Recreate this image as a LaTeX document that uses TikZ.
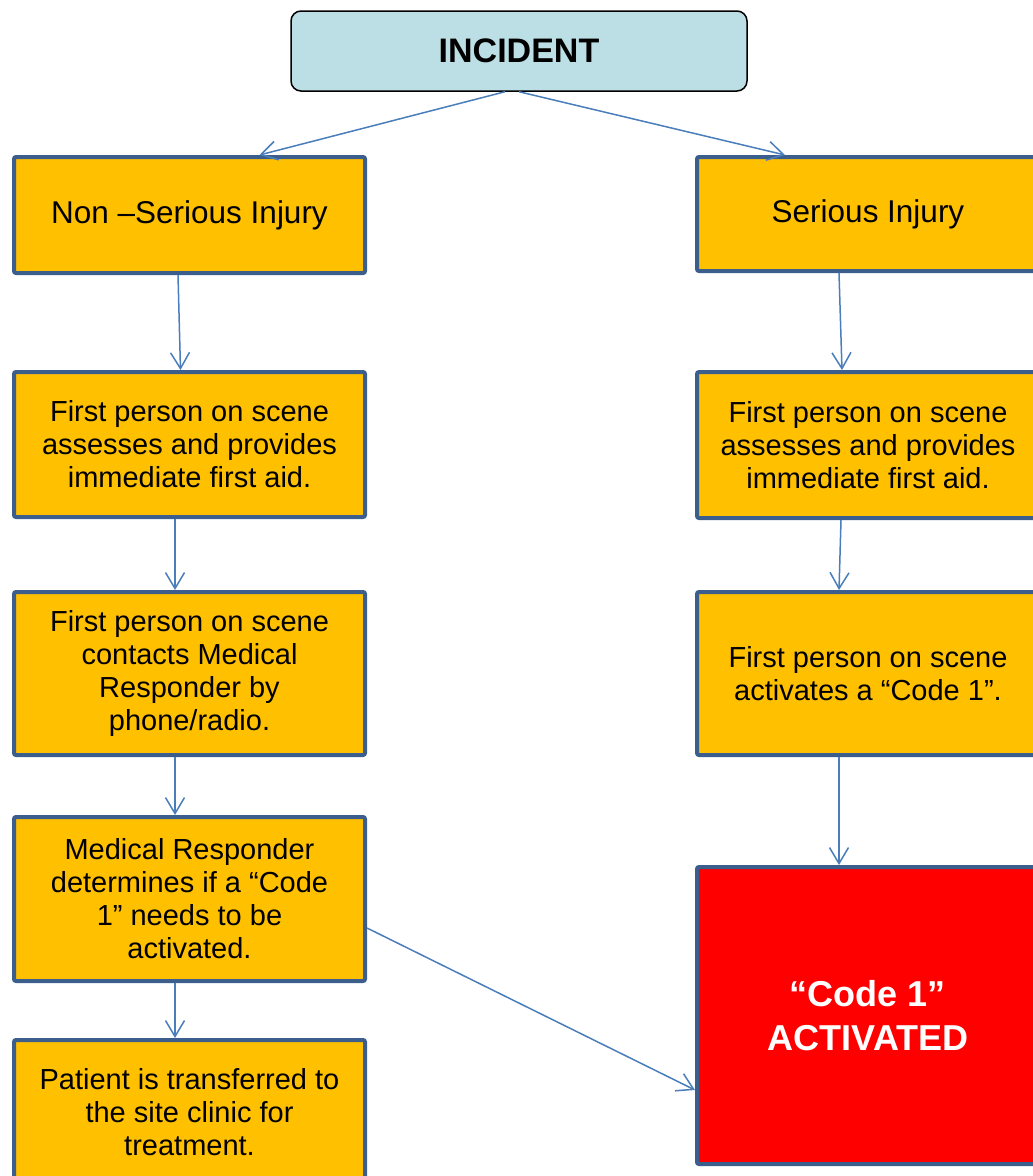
\documentclass[tikz,border=0pt]{standalone}
\usepackage{fontspec}
\setmainfont{Liberation Sans}
\usepackage{tikz}
\usetikzlibrary{arrows.meta}

\definecolor{boxline}{HTML}{3B5E8C}
\definecolor{boxfill}{HTML}{FFC000}
\definecolor{arrline}{HTML}{4A7EBB}
\definecolor{topfill}{HTML}{BBDFE4}

\begin{document}
\begin{tikzpicture}[x=1pt, y=-1pt,
  stage/.style={draw=boxline, line width=4pt, rounded corners=2pt, fill=#1, align=center, inner sep=2pt,
    font=\fontsize{29}{33}\selectfont, minimum width=351pt},
  stage/.default=boxfill,
  top/.style={draw=black, line width=1.5pt, rounded corners=10pt, fill=topfill, minimum width=456pt,
    minimum height=80pt, font=\fontsize{34}{40}\selectfont\bfseries},
  arr/.style={-{Straight Barb[length=16pt, width=19pt]}, line width=1.5pt, draw=arrline},
]
\useasboundingbox (0,0) rectangle (1033,1176);
\clip (0,0) rectangle (1033,1176);

% States
\node[top] (inc) at (519,51) {INCIDENT};

\node[stage, minimum height=116pt, font=\fontsize{31.5}{36}\selectfont] (ns) at (189.5,215) {Non –Serious Injury};
\node[stage, minimum height=145pt] (l2) at (189.5,444.5) {First person on scene\\assesses and provides\\immediate first aid.};
\node[stage, minimum height=163pt] (l3) at (189.5,673.5) {First person on scene\\contacts Medical\\Responder by\\phone/radio.};
\node[stage, minimum height=164pt] (l4) at (189.5,899) {Medical Responder\\determines if a “Code\\1” needs to be\\activated.};
\node[stage, minimum height=144pt] (l5) at (189.5,1112) {Patient is transferred to\\the site clinic for\\treatment.};

\node[stage, minimum width=342pt, minimum height=114pt, font=\fontsize{31.5}{36}\selectfont] (si) at (868,214) {Serious Injury};
\node[stage, minimum width=342pt, minimum height=146pt] (r2) at (868,445) {First person on scene\\assesses and provides\\immediate first aid.};
\node[stage, minimum width=342pt, minimum height=163pt] (r3) at (868,673.5) {First person on scene\\activates a “Code 1”.};
\node[stage=red, minimum width=342pt, minimum height=297pt, text=white,
  font=\fontsize{36}{44}\selectfont\bfseries] (code) at (868,1015.5) {“Code 1”\\ACTIVATED};

% Transitions
\draw[arr] ([xshift=-14pt]inc.south) -- ([xshift=70pt]ns.north);
\draw[arr] (inc.south) -- ([xshift=-83pt]si.north);

\draw[arr] ([xshift=-11.5pt]ns.south) -- ([xshift=-9pt]l2.north);
\draw[arr] ([xshift=-14.5pt]l2.south) -- ([xshift=-14.5pt]l3.north);
\draw[arr] ([xshift=-14.5pt]l3.south) -- ([xshift=-14.5pt]l4.north);
\draw[arr] ([xshift=-14.5pt]l4.south) -- ([xshift=-14.5pt]l5.north);

\draw[arr] ([xshift=-29pt]si.south) -- ([xshift=-26pt]r2.north);
\draw[arr] ([xshift=-27pt]r2.south) -- ([xshift=-29pt]r3.north);
\draw[arr] ([xshift=-29pt]r3.south) -- ([xshift=-29pt]code.north);

\draw[arr] ([yshift=-29pt]l4.east) -- ([yshift=-74.5pt]code.west);

\end{tikzpicture}
\end{document}
